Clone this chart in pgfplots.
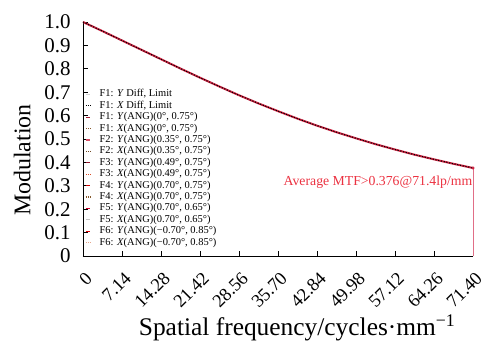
\documentclass[border=0pt]{standalone}
\usepackage{pgfplots}
\pgfplotsset{compat=1.18}
\usepackage{pgfplotstable}
\usepackage{fontspec}
\setmainfont{Liberation Serif}

\definecolor{mtfred}{RGB}{205,35,65}
\definecolor{annred}{RGB}{235,50,65}
\definecolor{vline}{RGB}{225,110,135}

\pgfplotstableread{
x y
0 1.000
3.57 0.961
7.14 0.921
10.71 0.881
14.28 0.841
17.85 0.801
21.42 0.762
24.99 0.724
28.56 0.687
32.13 0.652
35.70 0.619
39.27 0.587
42.84 0.557
46.41 0.529
49.98 0.503
53.55 0.478
57.12 0.455
60.69 0.433
64.26 0.413
67.83 0.394
71.40 0.376
}\mtf

\begin{document}
\begin{tikzpicture}
\begin{axis}[
  scale only axis, width=390bp, height=234bp,
  xmin=0, xmax=71.4, ymin=0, ymax=1,
  axis lines=left, axis line style={-, line width=0.8pt},
  tick align=inside, major tick length=5bp,
  tick style={black, line width=0.7pt},
  xtick={0,7.14,14.28,21.42,28.56,35.70,42.84,49.98,57.12,64.26,71.40},
  xticklabels={0,7.14,14.28,21.42,28.56,35.70,42.84,49.98,57.12,64.26,71.40},
  ytick={0,0.1,0.2,0.3,0.4,0.5,0.6,0.7,0.8,0.9,1.0},
  yticklabels={0,0.1,0.2,0.3,0.4,0.5,0.6,0.7,0.8,0.9,1.0},
  /pgf/number format/assume math mode=true,
  xticklabel style={xshift=1.5bp, yshift=-10bp, rotate=45, anchor=north east, font=\fontsize{18.5}{18.5}\selectfont},
  yticklabel style={font=\fontsize{21}{21}\selectfont, xshift=-9bp},
  xlabel={Spatial frequency/cycles·mm\textsuperscript{−1}},
  ylabel={Modulation},
  xlabel style={font=\fontsize{25.5}{25.5}\selectfont, at={(axis description cs:0.549,0)}, anchor=base, yshift=-79bp},
  ylabel style={font=\fontsize{24}{24}\selectfont, at={(axis description cs:-0.156,0.41)}, anchor=center},
  clip=false,
  legend cell align=left,
  legend image code/.code={\draw[#1, line width=1.3pt] (0bp,0bp) -- (4.5bp,0bp);},
  legend style={draw=none, fill=none, at={(axis cs:0.4,0.715)}, anchor=north west,
    inner sep=0pt, outer sep=0pt, font=\fontsize{10.5}{10.5}\selectfont,
    row sep=0pt, nodes={inner sep=0.6bp, text height=7.6bp, text depth=2.6bp},
    /tikz/every odd column/.append style={column sep=8bp}},
]
\addlegendimage{gray!35}
\addlegendimage{black, dash pattern=on 1.2pt off 1pt}
\addlegendimage{mtfred!80!black}
\addlegendimage{brown!70!black, dash pattern=on 1pt off 1pt}
\addlegendimage{mtfred!80!white}
\addlegendimage{brown!60!black, dash pattern=on 1pt off 1pt}
\addlegendimage{mtfred!70!black}
\addlegendimage{brown!60!red, dash pattern=on 1pt off 1pt}
\addlegendimage{red!80!black}
\addlegendimage{brown!70!black, dash pattern=on 1pt off 1pt}
\addlegendimage{purple!70!red, line width=2pt}
\addlegendimage{gray!45}
\addlegendimage{red!85!black}
\addlegendimage{pink!60!brown, dash pattern=on 1pt off 1pt}
\legend{
  {F1: \textit{Y} Diff, Limit},
  {F1: \textit{X} Diff, Limit},
  {F1: \textit{Y}(ANG)(0°, 0.75°)},
  {F1: \textit{X}(ANG)(0°, 0.75°)},
  {F2: \textit{Y}(ANG)(0.35°, 0.75°)},
  {F2: \textit{X}(ANG)(0.35°, 0.75°)},
  {F3: \textit{Y}(ANG)(0.49°, 0.75°)},
  {F3: \textit{X}(ANG)(0.49°, 0.75°)},
  {F4: \textit{Y}(ANG)(0.70°, 0.75°)},
  {F4: \textit{X}(ANG)(0.70°, 0.75°)},
  {F5: \textit{Y}(ANG)(0.70°, 0.65°)},
  {F5: \textit{X}(ANG)(0.70°, 0.65°)},
  {F6: \textit{Y}(ANG)(−0.70°, 0.85°)},
  {F6: \textit{X}(ANG)(−0.70°, 0.85°)}
}
\addplot[forget plot, vline, line width=0.8pt] coordinates {(71.4,0) (71.4,0.376)};
\addplot[forget plot, mtfred, line width=2pt] table[x=x,y=y] {\mtf};
\addplot[forget plot, black, line width=1pt, dash pattern=on 1.2pt off 1.6pt] table[x=x,y=y] {\mtf};
\addplot[forget plot, only marks, mark=*, mark size=1.4pt, mtfred] coordinates {(71.4,0.376)};
\node[anchor=east, inner sep=0pt, text=annred, font=\fontsize{13.8}{13.8}\selectfont] at (axis cs:71.3,0.317) {Average MTF>0.376@71.4lp/mm};
\end{axis}
\pgfresetboundingbox
\path[use as bounding box] (-83bp,-90bp) rectangle (402bp,256bp);
\end{tikzpicture}
\end{document}
